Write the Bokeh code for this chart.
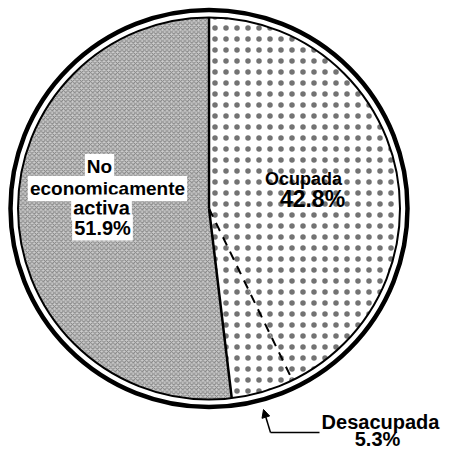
import math
from bokeh.plotting import figure
from bokeh.models import Range1d, Label, Arrow, NormalHead
from bokeh.embed import file_html
from bokeh.resources import INLINE

# ---- data ----
categories = ["No economicamente activa", "Ocupada", "Desacupada"]
shares = [51.9, 42.8, 5.3]
value_labels = ["51.9%", "42.8%", "5.3%"]
name_lines = [["No", "economicamente", "activa"], ["Ocupada"], ["Desacupada"]]

# ---- layout ----
W, H = 441, 450
p = figure(width=W, height=H, x_range=Range1d(0, W), y_range=Range1d(-H, 0),
           output_backend="svg", toolbar_location=None, min_border=0,
           x_axis_location=None, y_axis_location=None)
p.grid.visible = False
p.outline_line_color = None
p.background_fill_color = "white"

cx, cy = 208.5, -208.0
r_in = 191.0
r_out = 198.5

total = sum(shares)
# anticlockwise drawing order from 12 o'clock: inactive, unemployed, employed
order = [0, 2, 1]
angles = {}
a = 90.0
for i in order:
    span = 360.0 * shares[i] / total
    angles[i] = (a, a + span)
    a += span

styles = {
    0: dict(fill_color="#cccccc", hatch_pattern="diagonal_cross", hatch_scale=4.5,
            hatch_color="#333333", hatch_alpha=0.5, hatch_weight=1),
    1: dict(fill_color="white", hatch_pattern="dot", hatch_scale=11,
            hatch_color="black", hatch_alpha=0.55, hatch_weight=1),
    2: dict(fill_color="white", hatch_pattern="dot", hatch_scale=11,
            hatch_color="black", hatch_alpha=0.55, hatch_weight=1),
}
for i in order:
    s, e = angles[i]
    p.wedge(x=cx, y=cy, radius=r_in, start_angle=math.radians(s), end_angle=math.radians(e),
            direction="anticlock", line_color=None, **styles[i])

# boundaries: solid top and inactive/unemployed, dashed unemployed/employed
def rim(ang):
    t = math.radians(ang)
    return cx + r_in * math.cos(t), cy + r_in * math.sin(t)

solid_angles = [angles[0][0], angles[0][1]]
xs1 = [rim(t)[0] for t in solid_angles]
ys1 = [rim(t)[1] for t in solid_angles]
p.segment(x0=[cx] * 2, y0=[cy] * 2, x1=xs1, y1=ys1, line_color="black", line_width=2.5)
dx, dy = rim(angles[2][1])
p.segment(x0=[cx], y0=[cy], x1=[dx], y1=[dy], line_color="black", line_width=2,
          line_dash="9 7")

# double rim
p.circle(x=cx, y=cy, radius=r_in, fill_color=None, line_color="black", line_width=2)
p.circle(x=cx, y=cy, radius=r_out, fill_color=None, line_color="black", line_width=4.5)

FONT = "Liberation Sans"

def lab(x, y, text, size, bg=None):
    kw = dict(x=x, y=y, text=text, text_align="center", text_baseline="middle",
              text_font=FONT, text_font_size=f"{size}px", text_font_style="bold",
              text_color="black")
    if bg:
        kw.update(background_fill_color=bg, padding=2)
    p.add_layout(Label(**kw))

# inactive
lab(99, -166, name_lines[0][0], 19, "white")
lab(107, -188, name_lines[0][1], 19, "white")
lab(101, -207, name_lines[0][2], 20, "white")
lab(102, -227, value_labels[0], 20, "white")
# employed
lab(303, -178, name_lines[1][0], 18)
lab(312, -198, value_labels[1], 23)
# unemployed (outside)
lab(380, -421, name_lines[2][0], 20)
lab(377, -438, value_labels[2], 20)

# leader
p.line(x=[270, 319], y=[-432, -432], line_color="black", line_width=1.5)
p.add_layout(Arrow(end=NormalHead(size=8, fill_color="black", line_color="black"),
                   x_start=270, y_start=-432, x_end=263, y_end=-409,
                   line_color="black", line_width=1.5))

open("out.html", "w").write(file_html(p, INLINE))
